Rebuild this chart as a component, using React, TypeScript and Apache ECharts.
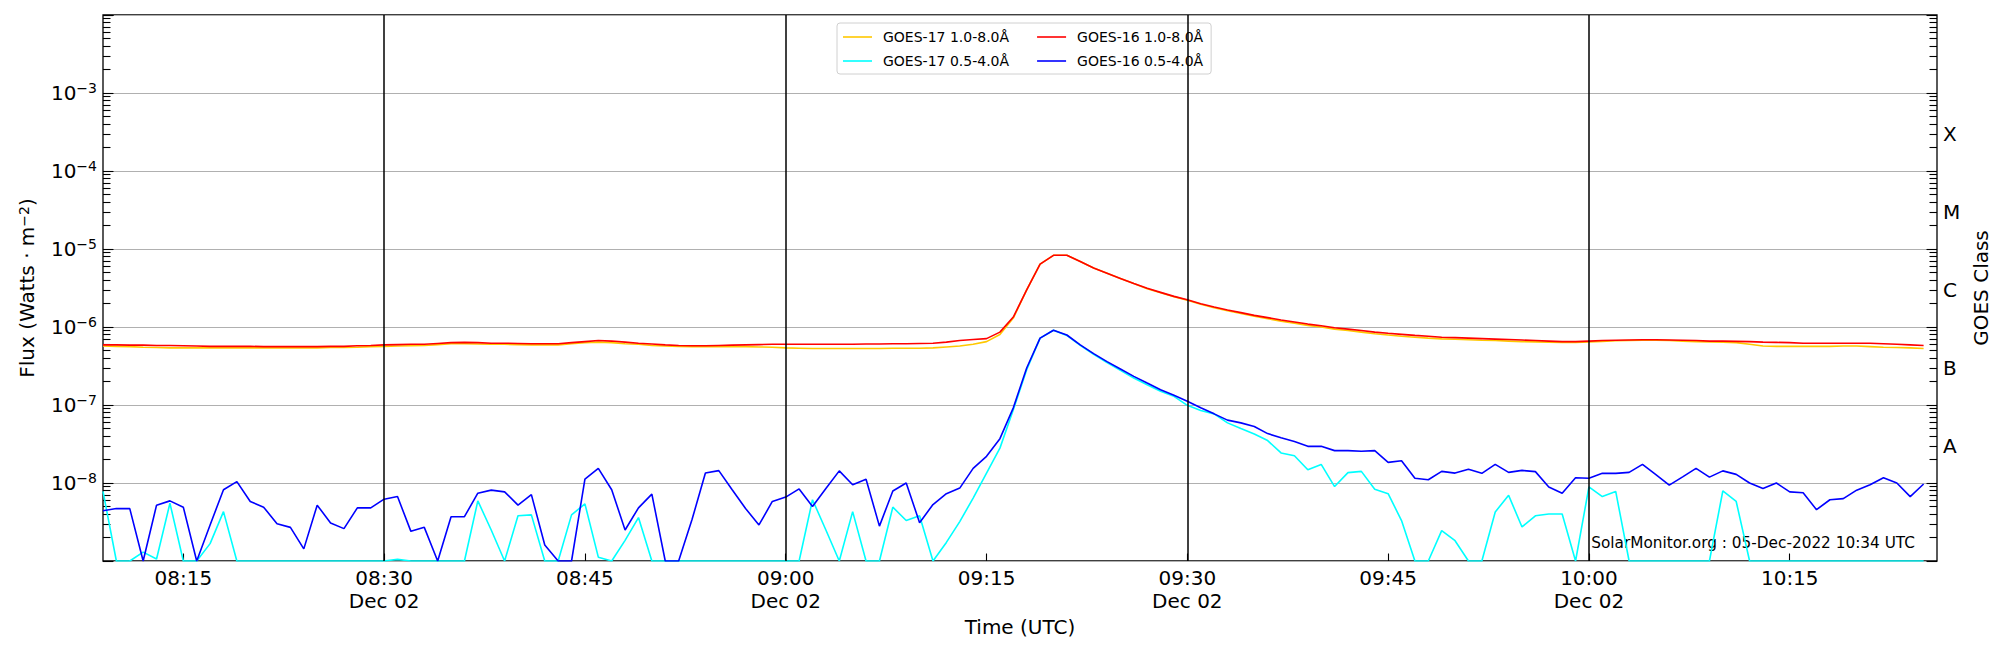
import React, { useEffect, useRef } from "react";
import * as echarts from "echarts";

// 1-minute cadence starting 08:09 UTC on Dec 02
const START_MINUTE = 8 * 60 + 9;
const X_MIN = 8 * 60 + 9;
const X_MAX = 10 * 60 + 26;
const TICK_MINUTES = [495, 510, 525, 540, 555, 570, 585, 600, 615];
const DATE_LINES = [510, 540, 570, 600];
const DATE_LABEL = "Dec 02";
const CLASS_LABELS = ["A", "B", "C", "M", "X"];
const CLASS_VALUES = [3e-8, 3e-7, 3e-6, 3e-5, 3e-4];
const Y_MIN = 1e-9;
const Y_MAX = 1e-2;
const WATERMARK = "SolarMonitor.org : 05-Dec-2022 10:34 UTC";

const NAME_G17_LONG = "GOES-17 1.0-8.0Å";
const NAME_G17_SHORT = "GOES-17 0.5-4.0Å";
const NAME_G16_LONG = "GOES-16 1.0-8.0Å";
const NAME_G16_SHORT = "GOES-16 0.5-4.0Å";

const G16_LONG = [
  5.9e-7, 5.9e-7, 5.85e-7, 5.85e-7, 5.8e-7, 5.8e-7, 5.75e-7, 5.7e-7, 5.65e-7, 5.65e-7,
  5.65e-7, 5.65e-7, 5.6e-7, 5.6e-7, 5.6e-7, 5.6e-7, 5.6e-7, 5.65e-7, 5.65e-7, 5.75e-7,
  5.8e-7, 5.9e-7, 5.95e-7, 6.0e-7, 6.0e-7, 6.15e-7, 6.3e-7, 6.35e-7, 6.3e-7, 6.2e-7,
  6.2e-7, 6.15e-7, 6.1e-7, 6.1e-7, 6.1e-7, 6.3e-7, 6.5e-7, 6.7e-7, 6.6e-7, 6.4e-7,
  6.2e-7, 6.05e-7, 5.9e-7, 5.8e-7, 5.75e-7, 5.75e-7, 5.8e-7, 5.85e-7, 5.9e-7, 5.95e-7,
  6.0e-7, 6.0e-7, 6.0e-7, 6.0e-7, 6.0e-7, 6.0e-7, 6.0e-7, 6.05e-7, 6.05e-7, 6.1e-7,
  6.1e-7, 6.15e-7, 6.2e-7, 6.4e-7, 6.7e-7, 6.9e-7, 7.1e-7, 8.6e-7, 1.34e-6, 3.0e-6,
  6.4e-6, 8.3e-6, 8.3e-6, 6.9e-6, 5.7e-6, 4.9e-6, 4.2e-6, 3.6e-6, 3.13e-6, 2.78e-6,
  2.47e-6, 2.24e-6, 1.99e-6, 1.8e-6, 1.65e-6, 1.53e-6, 1.41e-6, 1.32e-6, 1.23e-6, 1.16e-6,
  1.09e-6, 1.04e-6, 9.8e-7, 9.4e-7, 9.0e-7, 8.6e-7, 8.3e-7, 8.05e-7, 7.8e-7, 7.6e-7,
  7.4e-7, 7.3e-7, 7.2e-7, 7.1e-7, 7.0e-7, 6.9e-7, 6.8e-7, 6.7e-7, 6.6e-7, 6.5e-7,
  6.5e-7, 6.6e-7, 6.7e-7, 6.75e-7, 6.8e-7, 6.85e-7, 6.85e-7, 6.8e-7, 6.75e-7, 6.7e-7,
  6.6e-7, 6.6e-7, 6.55e-7, 6.5e-7, 6.4e-7, 6.35e-7, 6.3e-7, 6.2e-7, 6.2e-7, 6.2e-7,
  6.2e-7, 6.2e-7, 6.2e-7, 6.1e-7, 6.0e-7, 5.9e-7, 5.8e-7,
];

const G17_LONG = [
  5.7e-7, 5.65e-7, 5.6e-7, 5.5e-7, 5.45e-7, 5.4e-7, 5.4e-7, 5.4e-7, 5.4e-7, 5.4e-7,
  5.4e-7, 5.4e-7, 5.4e-7, 5.4e-7, 5.4e-7, 5.4e-7, 5.4e-7, 5.45e-7, 5.45e-7, 5.5e-7,
  5.6e-7, 5.65e-7, 5.7e-7, 5.75e-7, 5.8e-7, 5.95e-7, 6.1e-7, 6.1e-7, 6.05e-7, 6.0e-7,
  6.0e-7, 5.95e-7, 5.9e-7, 5.9e-7, 5.9e-7, 6.1e-7, 6.3e-7, 6.4e-7, 6.3e-7, 6.1e-7,
  6.0e-7, 5.8e-7, 5.7e-7, 5.65e-7, 5.6e-7, 5.6e-7, 5.6e-7, 5.6e-7, 5.6e-7, 5.55e-7,
  5.5e-7, 5.4e-7, 5.35e-7, 5.3e-7, 5.3e-7, 5.3e-7, 5.3e-7, 5.3e-7, 5.3e-7, 5.35e-7,
  5.35e-7, 5.35e-7, 5.4e-7, 5.55e-7, 5.7e-7, 6.0e-7, 6.5e-7, 8.0e-7, 1.3e-6, 3.0e-6,
  6.4e-6, 8.3e-6, 8.3e-6, 6.9e-6, 5.7e-6, 4.9e-6, 4.2e-6, 3.6e-6, 3.1e-6, 2.75e-6,
  2.45e-6, 2.2e-6, 1.96e-6, 1.77e-6, 1.62e-6, 1.49e-6, 1.37e-6, 1.28e-6, 1.19e-6, 1.12e-6,
  1.05e-6, 1.0e-6, 9.4e-7, 9.0e-7, 8.6e-7, 8.2e-7, 7.9e-7, 7.6e-7, 7.4e-7, 7.2e-7,
  7.05e-7, 6.95e-7, 6.85e-7, 6.75e-7, 6.7e-7, 6.6e-7, 6.5e-7, 6.45e-7, 6.4e-7, 6.35e-7,
  6.35e-7, 6.45e-7, 6.55e-7, 6.65e-7, 6.7e-7, 6.75e-7, 6.75e-7, 6.7e-7, 6.6e-7, 6.5e-7,
  6.45e-7, 6.4e-7, 6.3e-7, 6.0e-7, 5.7e-7, 5.65e-7, 5.65e-7, 5.65e-7, 5.65e-7, 5.65e-7,
  5.7e-7, 5.7e-7, 5.6e-7, 5.5e-7, 5.45e-7, 5.4e-7, 5.3e-7,
];

const G16_SHORT = [
  4.4e-9, 4.7e-9, 4.7e-9, 1e-9, 5.2e-9, 5.9e-9, 4.9e-9, 1e-9, 2.9e-9, 8.2e-9,
  1.04e-8, 5.8e-9, 4.9e-9, 3.0e-9, 2.7e-9, 1.43e-9, 5.2e-9, 3.07e-9, 2.6e-9, 4.8e-9,
  4.8e-9, 6.2e-9, 6.7e-9, 2.4e-9, 2.7e-9, 1e-9, 3.7e-9, 3.7e-9, 7.4e-9, 8.1e-9,
  7.7e-9, 5.2e-9, 7.1e-9, 1.6e-9, 1e-9, 1e-9, 1.12e-8, 1.54e-8, 8.2e-9, 2.5e-9,
  4.8e-9, 7.2e-9, 1e-9, 1e-9, 3.4e-9, 1.34e-8, 1.44e-8, 8.2e-9, 4.7e-9, 2.9e-9,
  5.8e-9, 6.6e-9, 8.4e-9, 5.0e-9, 8.5e-9, 1.43e-8, 9.5e-9, 1.12e-8, 2.8e-9, 7.9e-9,
  1.0e-8, 3.1e-9, 5.3e-9, 7.3e-9, 8.6e-9, 1.54e-8, 2.2e-8, 3.7e-8, 9.2e-8, 2.98e-7,
  7.2e-7, 9.1e-7, 7.9e-7, 5.9e-7, 4.55e-7, 3.6e-7, 2.9e-7, 2.33e-7, 1.91e-7, 1.57e-7,
  1.33e-7, 1.12e-7, 9.2e-8, 7.7e-8, 6.4e-8, 5.9e-8, 5.3e-8, 4.3e-8, 3.8e-8, 3.4e-8,
  2.95e-8, 2.95e-8, 2.6e-8, 2.6e-8, 2.55e-8, 2.6e-8, 1.84e-8, 1.93e-8, 1.15e-8, 1.1e-8,
  1.41e-8, 1.34e-8, 1.5e-8, 1.33e-8, 1.73e-8, 1.37e-8, 1.45e-8, 1.4e-8, 8.9e-9, 7.4e-9,
  1.17e-8, 1.15e-8, 1.33e-8, 1.33e-8, 1.37e-8, 1.73e-8, 1.28e-8, 9.4e-9, 1.2e-8, 1.54e-8,
  1.19e-8, 1.43e-8, 1.29e-8, 1.0e-8, 8.5e-9, 1.0e-8, 7.7e-9, 7.5e-9, 4.55e-9, 6.1e-9,
  6.3e-9, 8.1e-9, 9.5e-9, 1.17e-8, 1.0e-8, 6.7e-9, 9.7e-9,
];

const G17_SHORT = [
  7.8e-9, 1e-9, 1e-9, 1.3e-9, 1.06e-9, 5.5e-9, 1e-9, 1e-9, 1.67e-9, 4.3e-9,
  1e-9, 1e-9, 1e-9, 1e-9, 1e-9, 1e-9, 1e-9, 1e-9, 1e-9, 1e-9,
  1e-9, 1e-9, 1.05e-9, 1e-9, 1e-9, 1e-9, 1e-9, 1e-9, 5.9e-9, 2.5e-9,
  1e-9, 3.8e-9, 3.9e-9, 1e-9, 1e-9, 3.9e-9, 5.4e-9, 1.12e-9, 1e-9, 1.84e-9,
  3.6e-9, 1e-9, 1e-9, 1e-9, 1e-9, 1e-9, 1e-9, 1e-9, 1e-9, 1e-9,
  1e-9, 1e-9, 1e-9, 6.1e-9, 2.5e-9, 1e-9, 4.3e-9, 1e-9, 1e-9, 4.9e-9,
  3.3e-9, 3.8e-9, 1e-9, 1.73e-9, 3.2e-9, 6.4e-9, 1.34e-8, 2.8e-8, 8.7e-8, 2.84e-7,
  7.2e-7, 9.1e-7, 7.8e-7, 5.8e-7, 4.45e-7, 3.5e-7, 2.78e-7, 2.22e-7, 1.82e-7, 1.5e-7,
  1.29e-7, 9.9e-8, 8.5e-8, 7.7e-8, 5.9e-8, 5.0e-8, 4.25e-8, 3.5e-8, 2.43e-8, 2.24e-8,
  1.48e-8, 1.73e-8, 9.0e-9, 1.36e-8, 1.41e-8, 8.3e-9, 7.3e-9, 3.3e-9, 1e-9, 1e-9,
  2.45e-9, 1.82e-9, 1e-9, 1e-9, 4.25e-9, 6.95e-9, 2.73e-9, 3.8e-9, 4.0e-9, 4.0e-9,
  1e-9, 8.9e-9, 6.7e-9, 7.8e-9, 1e-9, 1e-9, 1e-9, 1e-9, 1e-9, 1e-9,
  1e-9, 7.9e-9, 5.8e-9, 1e-9, 1e-9, 1e-9, 1e-9, 1e-9, 1e-9, 1e-9,
  1e-9, 1e-9, 1e-9, 1e-9, 1e-9, 1e-9, 1e-9,
];

const FONT = "DejaVu Sans";
const COLOR_G17_LONG = "#FFC800";
const COLOR_G17_SHORT = "#00FFFF";
const COLOR_G16_LONG = "#FF0000";
const COLOR_G16_SHORT = "#0000FF";

function pad2(n: number) {
  return n < 10 ? "0" + n : String(n);
}

function toPairs(values: number[]) {
  return values.map((v, i) => [START_MINUTE + i, v]);
}

// log10 positions of axis decoration ticks (for the value axes that mirror the log axis)
const LOG_MIN = Math.log10(Y_MIN);
const LOG_MAX = Math.log10(Y_MAX);
const MAJOR_LOG_TICKS: number[] = [];
const MINOR_LOG_TICKS: number[] = [];
for (let e = LOG_MIN; e <= LOG_MAX; e++) {
  MAJOR_LOG_TICKS.push(e);
  if (e < LOG_MAX) {
    for (let k = 2; k <= 9; k++) MINOR_LOG_TICKS.push(e + Math.log10(k));
  }
}
const CLASS_LOG = CLASS_VALUES.map((v) => Math.log10(v));

export default function App() {
  const ref = useRef<HTMLDivElement>(null);

  useEffect(() => {
    document.body.style.margin = "0";
    if (!ref.current) return;
    const chart = echarts.init(ref.current, null, {
      renderer: "svg",
      width: 2000,
      height: 650,
    });

    const lineSeries = (name: string, values: number[], color: string, extra: any = {}) => ({
      name,
      type: "line",
      data: toPairs(values),
      symbol: "none",
      showSymbol: false,
      clip: true,
      xAxisIndex: 0,
      yAxisIndex: 0,
      lineStyle: { color, width: 1.6 },
      itemStyle: { color },
      emphasis: { disabled: true },
      ...extra,
    });

    const decoAxis = (position: string, ticks: number[], length: number, extra: any = {}) => ({
      type: "value",
      position,
      min: LOG_MIN,
      max: LOG_MAX,
      axisLine: { show: false },
      splitLine: { show: false },
      axisTick: {
        show: true,
        inside: true,
        length,
        customValues: ticks,
        lineStyle: { color: "#000", width: 1.1 },
      },
      axisLabel: { show: false },
      ...extra,
    });

    const legendText = {
      fontFamily: FONT,
      fontSize: 14,
      lineHeight: 14,
      color: "#000",
    };
    const firstColText = { ...legendText, padding: [0, 18, 0, 6] };
    const secondColText = { ...legendText, padding: [0, 0, 0, 6] };

    chart.setOption({
      animation: false,
      backgroundColor: "#ffffff",
      grid: {
        left: 103,
        right: 63,
        top: 15,
        bottom: 89,
        show: true,
        borderColor: "#000",
        borderWidth: 1.3,
        backgroundColor: "transparent",
        containLabel: false,
      },
      legend: {
        left: 837,
        top: 23,
        width: 380,
        orient: "horizontal",
        icon: "rect",
        itemWidth: 29,
        itemHeight: 1.6,
        itemGap: 10,
        padding: [7, 8, 6, 6],
        borderColor: "#d0d0d0",
        borderWidth: 1,
        borderRadius: 3,
        backgroundColor: "rgba(255,255,255,0.8)",
        textStyle: legendText,
        data: [
          { name: NAME_G17_LONG, textStyle: firstColText },
          { name: NAME_G16_LONG, textStyle: secondColText },
          { name: NAME_G17_SHORT, textStyle: firstColText },
          { name: NAME_G16_SHORT, textStyle: secondColText },
        ],
      },
      xAxis: {
        type: "value",
        min: X_MIN,
        max: X_MAX,
        name: "Time (UTC)",
        nameLocation: "middle",
        nameGap: 50,
        nameTextStyle: { fontFamily: FONT, fontSize: 20, color: "#000" },
        axisLine: { show: false },
        splitLine: { show: false },
        axisTick: {
          show: true,
          inside: true,
          length: 7.5,
          customValues: TICK_MINUTES,
          lineStyle: { color: "#000", width: 1.1 },
        },
        axisLabel: {
          customValues: TICK_MINUTES,
          margin: 5,
          fontFamily: FONT,
          fontSize: 20,
          lineHeight: 23,
          color: "#000",
          formatter: (v: number) => {
            const h = Math.floor(v / 60);
            const m = Math.round(v % 60);
            const s = pad2(h) + ":" + pad2(m);
            return m % 30 === 0 ? s + "\n" + DATE_LABEL : s;
          },
        },
      },
      yAxis: [
        {
          type: "log",
          logBase: 10,
          min: Y_MIN,
          max: Y_MAX,
          splitNumber: 7,
          position: "left",
          name: "{a|Flux (Watts · m}{s|−2}{a|)}",
          nameLocation: "middle",
          nameGap: 66,
          nameRotate: 90,
          nameTextStyle: {
            fontFamily: FONT,
            fontSize: 20,
            color: "#000",
            rich: {
              a: { fontFamily: FONT, fontSize: 20, color: "#000" },
              s: { fontFamily: FONT, fontSize: 14, color: "#000", verticalAlign: "top" },
            },
          },
          axisLine: { show: false },
          splitLine: { show: true, lineStyle: { color: "#b0b0b0", width: 1.2 } },
          axisTick: {
            show: true,
            inside: true,
            length: 10.5,
            lineStyle: { color: "#000", width: 1.1 },
          },
          axisLabel: {
            margin: 6,
            color: "#000",
            formatter: (v: number) => {
              const e = Math.round(Math.log10(v));
              if (e <= LOG_MIN || e >= LOG_MAX) return "";
              return "{b|10}{s|−" + -e + "}";
            },
            rich: {
              b: { fontFamily: FONT, fontSize: 20, color: "#000", lineHeight: 24 },
              s: { fontFamily: FONT, fontSize: 14, color: "#000", verticalAlign: "top" },
            },
          },
        },
        decoAxis("left", MINOR_LOG_TICKS, 7.5),
        decoAxis("right", MAJOR_LOG_TICKS, 10.5, {
          name: "GOES Class",
          nameLocation: "middle",
          nameGap: 16,
          nameRotate: 90,
          nameTextStyle: { fontFamily: FONT, fontSize: 20, color: "#000" },
          axisLabel: {
            show: true,
            customValues: CLASS_LOG,
            margin: 6,
            fontFamily: FONT,
            fontSize: 20,
            color: "#000",
            formatter: (v: number) => {
              let best = 0;
              CLASS_LOG.forEach((c, i) => {
                if (Math.abs(c - v) < Math.abs(CLASS_LOG[best] - v)) best = i;
              });
              return CLASS_LABELS[best];
            },
          },
        }),
        decoAxis("right", MINOR_LOG_TICKS, 7.5),
      ],
      series: [
        lineSeries(NAME_G17_LONG, G17_LONG, COLOR_G17_LONG, {
          markLine: {
            silent: true,
            symbol: ["none", "none"],
            label: { show: false },
            lineStyle: { color: "#000", width: 1.5, type: "solid" },
            emphasis: { disabled: true },
            data: DATE_LINES.map((m) => ({ xAxis: m })),
          },
        }),
        lineSeries(NAME_G17_SHORT, G17_SHORT, COLOR_G17_SHORT),
        lineSeries(NAME_G16_LONG, G16_LONG, COLOR_G16_LONG),
        lineSeries(NAME_G16_SHORT, G16_SHORT, COLOR_G16_SHORT),
      ],
      graphic: [
        {
          type: "text",
          x: 1915,
          y: 543,
          silent: true,
          style: {
            text: WATERMARK,
            fill: "#000",
            fontFamily: FONT,
            fontSize: 15.3,
            align: "right",
            verticalAlign: "middle",
            textAlign: "right",
            textVerticalAlign: "middle",
          },
        },
      ],
    });

    return () => {
      chart.dispose();
    };
  }, []);

  return <div ref={ref} style={{ width: 2000, height: 650 }} />;
}
